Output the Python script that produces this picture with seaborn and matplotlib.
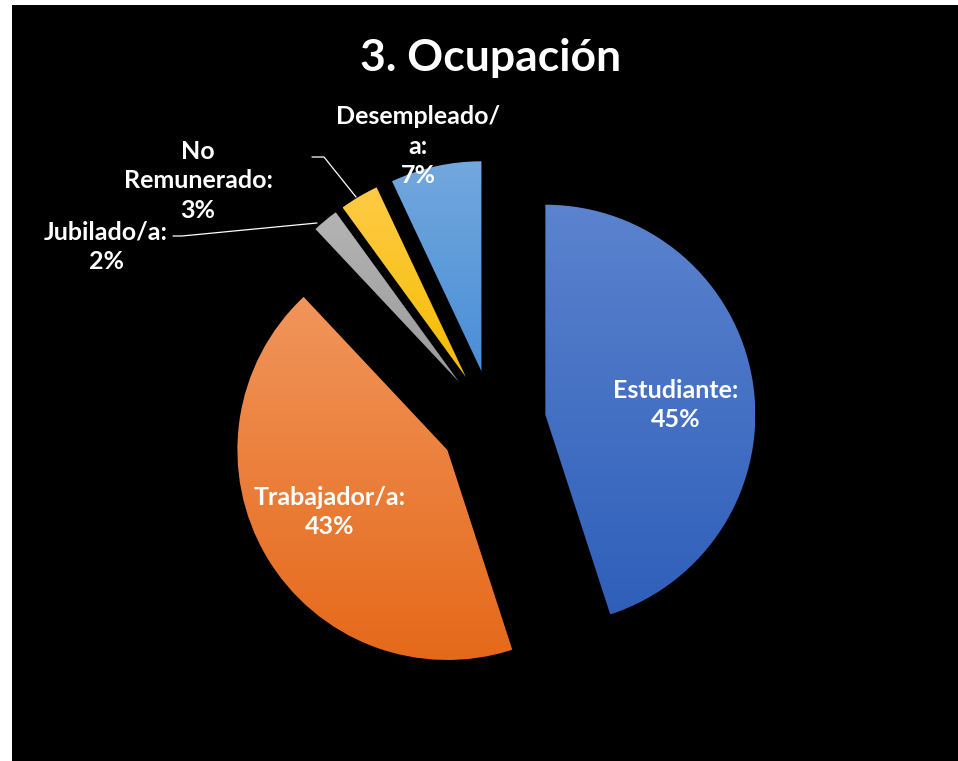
import numpy as np
import seaborn as sns
import matplotlib.pyplot as plt
from matplotlib.colors import LinearSegmentedColormap

# data for the pie (clockwise from 12 o'clock)
categories = ["Estudiante", "Trabajador/a", "Jubilado/a", "No\nRemunerado", "Desempleado/\na"]
shares = [45, 43, 2, 3, 7]
# gradient colors (top, bottom) per slice
top_colors = ["#5B83CE", "#F1955B", "#B4B4B4", "#FFCB47", "#72A8DE"]
bottom_colors = ["#2F5FBA", "#E5691A", "#9A9A9A", "#F5BD00", "#4A8ED6"]

sns.set_theme(style="white")
plt.rcParams["font.family"] = ["Lato", "DejaVu Sans"]

W, H = 958, 761
fig = plt.figure(figsize=(W / 100, H / 100), dpi=100, facecolor="white")
# black chart area (white strip on left and top)
ax = fig.add_axes([12 / W, 0, (W - 12) / W, (H - 5) / H])

# pixel-like data coords (y up); explode is in data units here
cx, cy, R = 493, H - 423, 210
wedges, _ = ax.pie(shares, explode=[53] * 5, startangle=90, counterclock=False,
                   radius=R, center=(cx, cy), colors=top_colors,
                   wedgeprops=dict(linewidth=0))
ax.set_frame_on(True)
ax.set_facecolor("black")
for s in ax.spines.values():
    s.set_visible(False)
ax.set_xticks([])
ax.set_yticks([])

# vertical gradient fill clipped to each wedge
grad = np.linspace(1, 0, 256).reshape(-1, 1)
for w, c1, c2 in zip(wedges, top_colors, bottom_colors):
    ext = w.get_path().get_extents()
    cmap = LinearSegmentedColormap.from_list("g", [c2, c1])
    im = ax.imshow(grad, cmap=cmap, aspect="auto", origin="upper",
                   extent=[ext.x0, ext.x1, ext.y0, ext.y1], zorder=2)
    im.set_clip_path(w)
    w.set_facecolor("none")

ax.set_xlim(12, W)
ax.set_ylim(0, H - 5)
ax.set_aspect("auto")

# labels (pixel positions from top-left)
label_pos = [(676, 405), (330, 512), (106, 247), (198, 181), (418, 146)]
for name, val, (px, py) in zip(categories, shares, label_pos):
    ax.text(px, H - py, f"{name}:\n{val}%", color="white", fontsize=18,
            fontweight="bold", ha="center", va="center", linespacing=1.33, zorder=5)

# leader lines
ax.plot([173, 182, 317], [H - 236, H - 236, H - 223], color="white", lw=0.9, zorder=4)
ax.plot([312, 324, 356], [H - 157, H - 157, H - 197], color="white", lw=0.9, zorder=4)

ax.text(491, H - 58, "3. Ocupación", color="white", fontsize=32, fontweight="bold",
        ha="center", va="center", zorder=5)

fig.savefig("out.png", dpi=100, facecolor="white")
